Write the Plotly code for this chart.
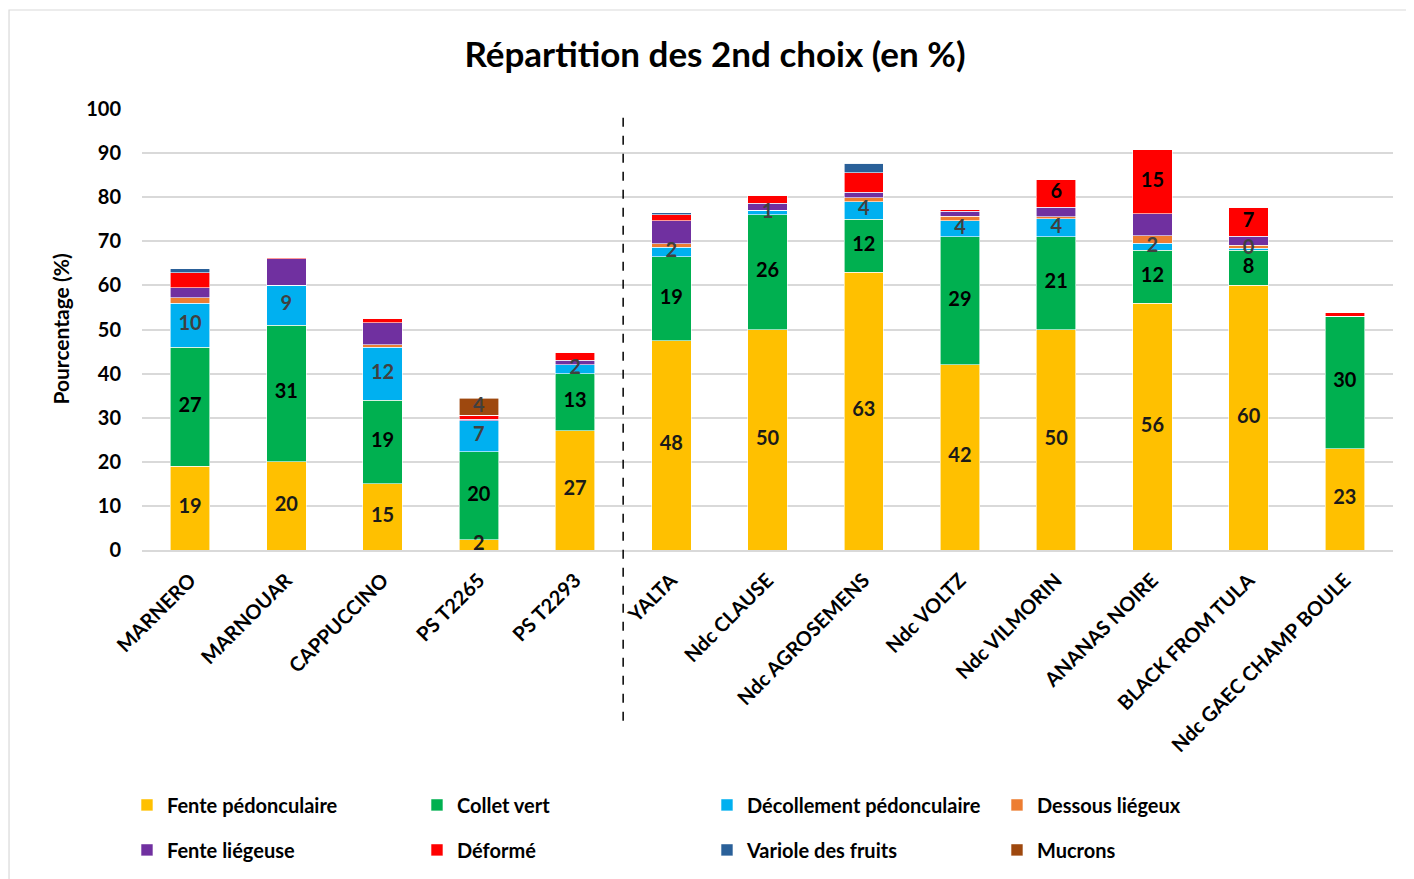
import plotly.graph_objects as go

# Data
varieties = ["MARNERO", "MARNOUAR", "CAPPUCCINO", "PS T2265", "PS T2293",
             "YALTA", "Ndc CLAUSE", "Ndc AGROSEMENS", "Ndc VOLTZ", "Ndc VILMORIN",
             "ANANAS NOIRE", "BLACK FROM TULA", "Ndc GAEC CHAMP BOULE"]

fente_pedonculaire = [19, 20, 15, 2.3, 27, 47.5, 50, 63, 42, 50, 56, 60, 23]
collet_vert = [27, 31, 19, 20, 13, 19, 26, 12, 29, 21, 12, 8, 30]
decollement_pedonculaire = [10, 9, 12, 7, 2, 2.2, 1, 4, 3.7, 4.1, 1.6, 0.4, 0]
dessous_liegeux = [1.2, 0, 0.5, 0, 0, 0.7, 0, 0.9, 1, 0.5, 1.7, 0.7, 0]
fente_liegeuse = [2.3, 6, 5, 0.3, 1, 5.3, 1.6, 1.2, 1.1, 2.1, 4.9, 2, 0]
deforme = [3.4, 0.3, 1, 1, 1.8, 1.3, 1.8, 4.5, 0.4, 6.3, 14.6, 6.6, 0.8]
variole_des_fruits = [0.9, 0, 0, 0, 0, 0.5, 0, 2.1, 0, 0, 0, 0, 0]
mucrons = [0, 0, 0, 3.8, 0, 0, 0, 0, 0, 0, 0, 0, 0]

# name, values, colour, label colour, label threshold (None = no labels), legend
series = [
    ("Fente pédonculaire", fente_pedonculaire, "#FFC000", "#1a1a1a", 0, "legend"),
    ("Collet vert", collet_vert, "#00B050", "#000000", 0, "legend"),
    ("Décollement pédonculaire", decollement_pedonculaire, "#00B0F0", "#404040", 0, "legend"),
    ("Dessous liégeux", dessous_liegeux, "#ED7D31", "#404040", None, "legend"),
    ("Fente liégeuse", fente_liegeuse, "#7030A0", "#404040", None, "legend2"),
    ("Déformé", deforme, "#FF0000", "#000000", 5, "legend2"),
    ("Variole des fruits", variole_des_fruits, "#2A6099", "#404040", None, "legend2"),
    ("Mucrons", mucrons, "#9E480E", "#404040", 0, "legend2"),
]

FONT = "Lato, 'Open Sans', sans-serif"

fig = go.Figure()

# stacked bars
for name, values, color, txt_color, min_label, lg in series:
    fig.add_trace(go.Bar(
        name=f"<b>{name}</b>",
        x=varieties,
        y=values,
        legend=lg,
        marker=dict(color=color, line=dict(width=0.6, color="white")),
        hoverinfo="x+y+name",
    ))

# data labels on top of every segment (drawn after the bars)
base = [0] * len(varieties)
for name, values, color, txt_color, min_label, lg in series:
    mids, labels = [], []
    for i, v in enumerate(values):
        mids.append(base[i] + v / 2)
        if min_label is not None and v > min_label:
            labels.append(f"<b>{v:.0f}</b>")
        else:
            labels.append("")
        base[i] += v
    if min_label is None:
        continue
    fig.add_trace(go.Scatter(
        x=varieties,
        y=mids,
        mode="text",
        text=labels,
        textposition="middle center",
        textfont=dict(family=FONT, size=20, color=txt_color),
        showlegend=False,
        hoverinfo="skip",
    ))

# Dashed separator between the two groups
fig.add_shape(
    type="line", xref="x", yref="paper",
    x0=4.5, x1=4.5, y0=-0.387, y1=1,
    line=dict(color="black", width=1.5, dash="dash"),
)

# Light frame around the chart (right and bottom edges fall outside the page)
fig.add_shape(
    type="rect", xref="paper", yref="paper",
    x0=-0.1063, x1=1.06, y0=-0.8, y1=1.2245,
    line=dict(color="#D9D9D9", width=1.2),
)

# y axis title
fig.add_annotation(
    text="<b>Pourcentage (%)</b>",
    xref="paper", yref="paper",
    x=-0.0655, y=0.5,
    xanchor="center", yanchor="middle",
    textangle=-90, showarrow=False,
    font=dict(size=21, family=FONT, color="#000000"),
)

legend_style = dict(
    orientation="h",
    xanchor="left",
    yanchor="middle",
    entrywidth=245,
    entrywidthmode="pixels",
    traceorder="normal",
    itemwidth=30,
    font=dict(size=20, family=FONT, color="#000000"),
    bgcolor="rgba(0,0,0,0)",
)

# the page body adds an 8px offset, margins are reduced to compensate
fig.update_layout(
    barmode="stack",
    bargap=0.59,
    width=1414,
    height=879,
    plot_bgcolor="white",
    paper_bgcolor="white",
    font=dict(family=FONT, color="#000000"),
    title=dict(
        text="<b>Répartition des 2nd choix (en %)</b>",
        x=0.5, xanchor="center",
        y=0.9465, yanchor="middle",
        font=dict(size=35, family=FONT, color="#000000"),
    ),
    margin=dict(l=134, r=29, t=101, b=337, autoexpand=False),
    legend=dict(legend_style, x=-0.012, y=-0.578),
    legend2=dict(legend_style, x=-0.012, y=-0.68),
)

fig.update_yaxes(
    range=[0, 100],
    tickvals=list(range(0, 101, 10)),
    ticktext=[f"<b>{v}</b>" for v in range(0, 101, 10)],
    showgrid=True,
    gridcolor="#D9D9D9",
    gridwidth=1.5,
    zeroline=False,
    automargin=False,
    tickfont=dict(size=20, family=FONT, color="#000000"),
    ticklabelstandoff=20,
)

fig.update_xaxes(
    range=[-0.5, len(varieties) - 0.5],
    tickangle=-45,
    showline=True,
    linecolor="#D9D9D9",
    linewidth=1.5,
    automargin=False,
    tickvals=varieties,
    ticktext=[f"<b>{v}</b>" for v in varieties],
    tickfont=dict(size=20, family=FONT, color="#000000"),
    ticklabelstandoff=9,
)

fig.write_html("out.html")
